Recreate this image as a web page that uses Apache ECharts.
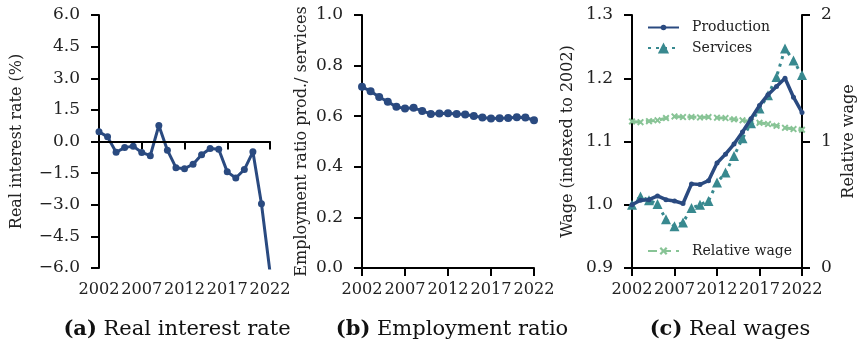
<!DOCTYPE html>
<html><head><meta charset="utf-8">
<script src="https://cdn.jsdelivr.net/npm/echarts@6/dist/echarts.min.js"></script>
<style>html,body{margin:0;padding:0;background:#fff}#c{width:858px;height:347px}</style>
</head><body><div id="c"></div>
<script>
const years = ['2002','2003','2004','2005','2006','2007','2008','2009','2010','2011','2012','2013','2014','2015','2016','2017','2018','2019','2020','2021','2022'];
const realInterestRate = [0.46,0.22,-0.51,-0.29,-0.22,-0.52,-0.67,0.76,-0.41,-1.24,-1.29,-1.08,-0.63,-0.33,-0.37,-1.44,-1.73,-1.33,-0.49,-2.95,-6.2];
const employmentRatio = [0.716,0.699,0.676,0.657,0.637,0.630,0.633,0.621,0.609,0.611,0.612,0.609,0.607,0.601,0.595,0.591,0.592,0.593,0.596,0.595,0.584];
const productionWage = [1.0,1.007,1.008,1.014,1.008,1.006,1.002,1.033,1.032,1.038,1.066,1.080,1.096,1.115,1.136,1.157,1.174,1.187,1.200,1.170,1.146];
const servicesWage = [1.0,1.013,1.007,1.001,0.977,0.966,0.972,0.995,1.0,1.006,1.035,1.051,1.077,1.105,1.129,1.152,1.173,1.202,1.247,1.228,1.205];
const relativeWage = [1.159,1.153,1.161,1.167,1.185,1.198,1.193,1.193,1.190,1.193,1.188,1.185,1.175,1.167,1.159,1.148,1.138,1.124,1.108,1.098,1.093];
const yTicksA = {min:-6, max:6, step:1.5};
const yTicksB = {min:0, max:1, step:0.2};
const yTicksC = {min:0.9, max:1.3, step:0.1};
const yTicksC2 = {min:0, max:2, step:1};

const FONT = 'DejaVu Serif';
const NAVY = '#2a4a80';
const TEAL = '#38898f';
const GREEN = '#88c496';
const TXT = '#222';
const TICK_FS = 17, XTICK_FS = 16.2, NAME_FS = 16, LEG_FS = 14, CAP_FS = 21;
const fmt1 = v => (v < 0 ? '\u2212' : '') + Math.abs(v).toFixed(1);

function xAx(grid) {
  return {
    type:'category', gridIndex:grid, data:years, boundaryGap:false,
    axisLine:{show:true, lineStyle:{color:'#000', width:2}},
    axisTick:{show:true, interval:4, length:8, lineStyle:{color:'#000', width:2}},
    axisLabel:{interval:4, margin:14, fontSize:XTICK_FS, fontFamily:FONT, color:TXT,
      showMinLabel:true, showMaxLabel:true, hideOverlap:false},
    splitLine:{show:false}
  };
}
function yAx(grid, t, name, gap, pos, formatter) {
  return {
    type:'value', gridIndex:grid, min:t.min, max:t.max, interval:t.step, position:pos||'left',
    axisLine:{show:true, lineStyle:{color:'#000', width:2}},
    axisTick:{show:true, length:8, lineStyle:{color:'#000', width:2}},
    axisLabel:{margin:19, fontSize:TICK_FS, fontFamily:FONT, color:TXT, formatter:formatter,
      showMinLabel:true, showMaxLabel:true},
    splitLine:{show:false},
    name:name, nameLocation:'middle', nameGap:gap, nameRotate:90,
    nameTextStyle:{fontSize:NAME_FS, fontFamily:FONT, color:TXT}
  };
}
function leg(name, top, h) {
  return {data:[name], left:647, top:top, padding:0, orient:'vertical', itemWidth:31, itemHeight:h,
    textStyle:{fontFamily:FONT, fontSize:LEG_FS, color:TXT, padding:[0,0,0,8]}};
}
const xMark = 'path://M2,0 L5,3 L8,0 L10,2 L7,5 L10,8 L8,10 L5,7 L2,10 L0,8 L3,5 L0,2 Z';

const chart = echarts.init(document.getElementById('c'), null, {renderer:'canvas'});
chart.setOption({
  animation:false,
  backgroundColor:'#fff',
  grid:[
    {left:99, top:15, width:171, height:253},
    {left:362, top:15, width:172, height:253},
    {left:632, top:15, width:171, height:253}
  ],
  xAxis:[xAx(0), xAx(1), xAx(2)],
  yAxis:[
    yAx(0, yTicksA, 'Real interest rate (%)', 74, 'left', fmt1),
    yAx(1, yTicksB, 'Employment ratio prod./ services', 52, 'left', fmt1),
    yAx(2, yTicksC, 'Wage (indexed to 2002)', 56, 'left', fmt1),
    yAx(2, yTicksC2, 'Relative wage', 39, 'right', v => String(v))
  ],
  legend:[
    leg('Production', 20.5, 7),
    leg('Services', 41, 14),
    leg('Relative wage', 244, 10)
  ],
  series:[
    {type:'line', name:'Real interest rate', xAxisIndex:0, yAxisIndex:0, data:realInterestRate,
     symbol:'circle', symbolSize:7, showAllSymbol:true, clip:true,
     lineStyle:{color:NAVY, width:3}, itemStyle:{color:NAVY},
     markLine:{silent:true, symbol:'none', label:{show:false}, animation:false,
       lineStyle:{color:'#000', width:2, type:'solid'}, data:[{yAxis:0}]}},
    {type:'line', name:'Employment ratio', xAxisIndex:1, yAxisIndex:1, data:employmentRatio,
     symbol:'circle', symbolSize:8, showAllSymbol:true, lineStyle:{color:NAVY, width:3}, itemStyle:{color:NAVY}},
    {type:'line', name:'Relative wage', xAxisIndex:2, yAxisIndex:3, data:relativeWage,
     symbol:xMark, symbolSize:7, showAllSymbol:true, lineStyle:{color:GREEN, width:3, type:[9,5]}, itemStyle:{color:GREEN}, z:1},
    {type:'line', name:'Services', xAxisIndex:2, yAxisIndex:2, data:servicesWage,
     symbol:'triangle', symbolSize:10, showAllSymbol:true, lineStyle:{color:TEAL, width:3, type:[3,5]}, itemStyle:{color:TEAL}, z:2},
    {type:'line', name:'Production', xAxisIndex:2, yAxisIndex:2, data:productionWage,
     symbol:'circle', symbolSize:5, showAllSymbol:true, lineStyle:{color:NAVY, width:3.5}, itemStyle:{color:NAVY}, z:3}
  ],
  graphic:[
    {type:'text', x:177, y:330, style:{text:'{b|(a)} Real interest rate', fontSize:CAP_FS, fontFamily:FONT, fill:'#111', align:'center', verticalAlign:'middle',
      rich:{b:{fontWeight:'bold', fontSize:CAP_FS, fontFamily:FONT, fill:'#111'}}}},
    {type:'text', x:452, y:330, style:{text:'{b|(b)} Employment ratio', fontSize:CAP_FS, fontFamily:FONT, fill:'#111', align:'center', verticalAlign:'middle',
      rich:{b:{fontWeight:'bold', fontSize:CAP_FS, fontFamily:FONT, fill:'#111'}}}},
    {type:'text', x:730, y:330, style:{text:'{b|(c)} Real wages', fontSize:CAP_FS, fontFamily:FONT, fill:'#111', align:'center', verticalAlign:'middle',
      rich:{b:{fontWeight:'bold', fontSize:CAP_FS, fontFamily:FONT, fill:'#111'}}}}
  ]
});
</script>
</body></html>
